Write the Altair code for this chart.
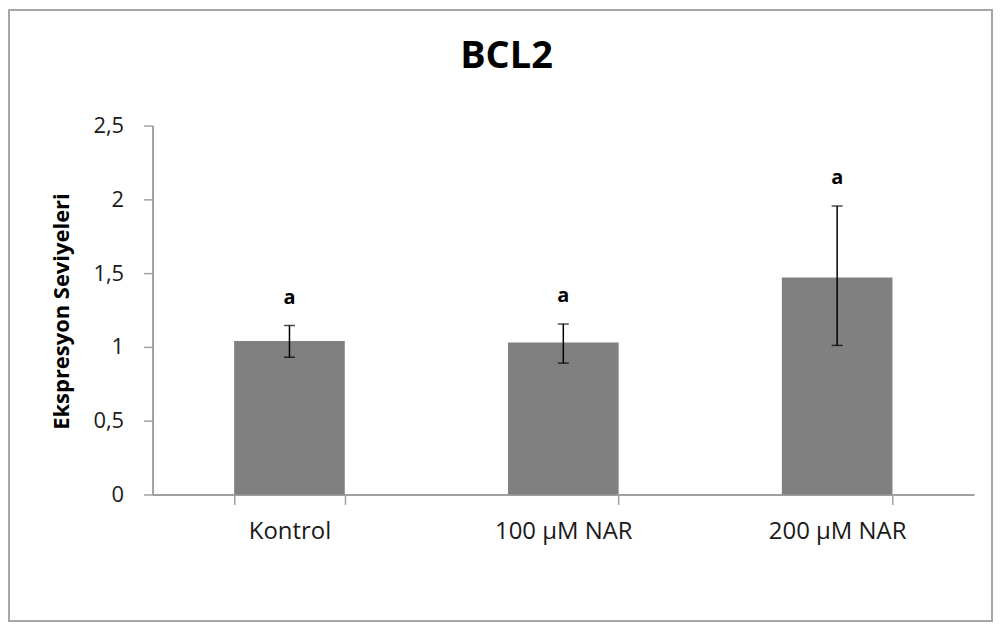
import altair as alt
import pandas as pd

categories = ["Kontrol", "100 µM NAR", "200 µM NAR"]
means = [1.04, 1.03, 1.47]
err_low = [0.93, 0.89, 1.01]
err_high = [1.145, 1.155, 1.955]
letters = ["a", "a", "a"]

df = pd.DataFrame({
    "cat": categories,
    "mean": means,
    "lo": err_low,
    "hi": err_high,
    "letter": letters,
})

FONT = "Open Sans"
W, H = 824, 370

xenc = alt.X("cat:N", sort=categories, title=None,
             scale=alt.Scale(paddingInner=0.596, paddingOuter=0.298),
             axis=alt.Axis(tickBand="extent", labelAngle=0, labelFont=FONT,
                           labelFontSize=24, labelColor="#1a1a1a", labelPadding=15,
                           tickSize=10, tickColor="#a0a0a0", domainColor="#a0a0a0",
                           domainWidth=2, tickWidth=1.5))

yscale = alt.Scale(domain=[0, 2.5], nice=False, zero=True)

bars = alt.Chart(df).mark_bar(color="#808080").encode(
    x=xenc,
    y=alt.Y("mean:Q", scale=yscale, title="Ekspresyon Seviyeleri",
            axis=alt.Axis(values=[0, 0.5, 1, 1.5, 2, 2.5], grid=False,
                          labelExpr="replace(toString(datum.value), '.', ',')",
                          labelFont=FONT, labelFontSize=22, labelColor="#1a1a1a",
                          labelPadding=20, tickSize=9, tickColor="#a0a0a0",
                          domainColor="#a0a0a0", domainWidth=2, tickWidth=1.5,
                          titleFont=FONT, titleFontSize=22, titleFontWeight="bold",
                          titleColor="#000000", titleBaseline="middle",
                          titleX=-91, titleY=186)),
)

rules = alt.Chart(df).mark_rule(color="black", strokeWidth=1.5).encode(
    x=alt.X("cat:N", sort=categories),
    y=alt.Y("lo:Q", scale=yscale),
    y2="hi:Q",
)

caps_lo = alt.Chart(df).mark_tick(color="black", thickness=1.5, size=11).encode(
    x=alt.X("cat:N", sort=categories),
    y=alt.Y("lo:Q", scale=yscale),
)
caps_hi = alt.Chart(df).mark_tick(color="black", thickness=1.5, size=11).encode(
    x=alt.X("cat:N", sort=categories),
    y=alt.Y("hi:Q", scale=yscale),
)

labels = alt.Chart(df).mark_text(font=FONT, fontSize=20, fontWeight="bold",
                                 color="black", baseline="alphabetic", dy=-22).encode(
    x=alt.X("cat:N", sort=categories),
    y=alt.Y("hi:Q", scale=yscale),
    text="letter:N",
)

border = alt.Chart(alt.Data(values=[{}])).mark_rect(
    fill=None, fillOpacity=0, stroke="#a6a6a6", strokeWidth=2
).encode(
    x=alt.value(-144), x2=alt.value(842), y=alt.value(-116), y2=alt.value(497)
)

chart = alt.layer(border, bars, rules, caps_lo, caps_hi, labels).properties(
    width=W, height=H,
    title=alt.TitleParams("BCL2", font=FONT, fontSize=38, fontWeight="bold",
                          color="black", anchor="middle", dx=-57, offset=-97,
                          baseline="alphabetic"),
    autosize=alt.AutoSizeParams(type="none"),
    padding={"left": 145, "top": 117, "right": 19, "bottom": 128},
    background="white",
).configure_view(stroke="transparent", strokeWidth=0)

chart.save("out.html", embed_options={"renderer": "svg", "actions": False})
